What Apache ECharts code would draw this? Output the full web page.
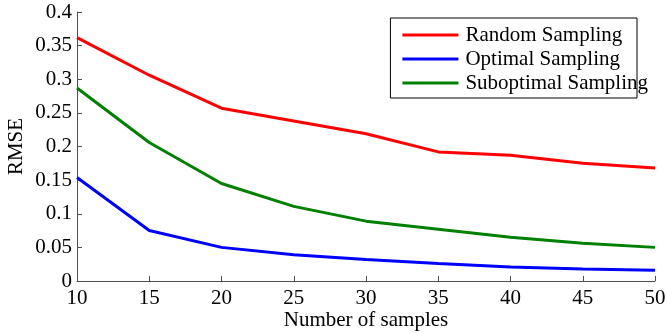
<!DOCTYPE html>
<html>
<head>
<meta charset="utf-8">
<script src="https://cdn.jsdelivr.net/npm/echarts@6/dist/echarts.min.js"></script>
<style>
  html, body { margin: 0; padding: 0; background: #fff; }
  #chart { width: 667px; height: 333px; }
</style>
</head>
<body>
<div id="chart"></div>
<script>
const samples = [10, 15, 20, 25, 30, 35, 40, 45, 50];
const randomRmse = [0.362, 0.306, 0.257, 0.238, 0.219, 0.192, 0.187, 0.175, 0.168];
const optimalRmse = [0.154, 0.075, 0.050, 0.039, 0.032, 0.026, 0.021, 0.018, 0.016];
const suboptimalRmse = [0.287, 0.206, 0.145, 0.111, 0.089, 0.077, 0.065, 0.056, 0.050];

const font = "Liberation Serif";
const fontSize = 21;
const axisColor = "#505050";

const chart = echarts.init(document.getElementById("chart"));

function makeSeries(name, values, color) {
  return {
    name,
    type: "line",
    data: samples.map((x, i) => [x, values[i]]),
    showSymbol: false,
    symbol: "none",
    lineStyle: { color, width: 3 },
    itemStyle: { color },
  };
}

chart.setOption({
  animation: false,
  backgroundColor: "#fff",
  textStyle: { fontFamily: font },
  grid: {
    left: 77, right: 12, top: 12, bottom: 52,
    containLabel: false,
    outerBoundsMode: "none",
  },
  legend: {
    orient: "vertical",
    right: 30,
    top: 18,
    icon: "rect",
    itemWidth: 56,
    itemHeight: 3,
    itemGap: 2,
    padding: [6, -11, 4, 12],
    borderColor: "#000",
    borderWidth: 1,
    backgroundColor: "#fff",
    textStyle: {
      fontFamily: font, fontSize, color: "#000",
      lineHeight: 22, padding: [0, 0, 0, 2],
    },
    data: ["Random Sampling", "Optimal Sampling", "Suboptimal Sampling"],
  },
  xAxis: {
    type: "value",
    min: 10,
    max: 50,
    interval: 5,
    name: "Number of samples",
    nameLocation: "middle",
    nameGap: 29,
    nameMoveOverlap: false,
    nameTextStyle: { fontFamily: font, fontSize, color: "#000" },
    axisLine: { lineStyle: { color: axisColor, width: 1 } },
    axisTick: { inside: true, length: 5, lineStyle: { color: axisColor } },
    axisLabel: { fontFamily: font, fontSize, color: "#000", margin: 7 },
    splitLine: { show: false },
  },
  yAxis: {
    type: "value",
    min: 0,
    max: 0.4,
    interval: 0.05,
    name: "RMSE",
    nameLocation: "middle",
    nameGap: 50,
    nameMoveOverlap: false,
    nameTextStyle: { fontFamily: font, fontSize, color: "#000" },
    axisLine: { show: true, lineStyle: { color: axisColor, width: 1 } },
    axisTick: { show: true, inside: true, length: 5, lineStyle: { color: axisColor } },
    axisLabel: { fontFamily: font, fontSize, color: "#000", margin: 5 },
    splitLine: { show: false },
  },
  series: [
    makeSeries("Random Sampling", randomRmse, "#ff0000"),
    makeSeries("Optimal Sampling", optimalRmse, "#0000ff"),
    makeSeries("Suboptimal Sampling", suboptimalRmse, "#008000"),
  ],
});
</script>
</body>
</html>
